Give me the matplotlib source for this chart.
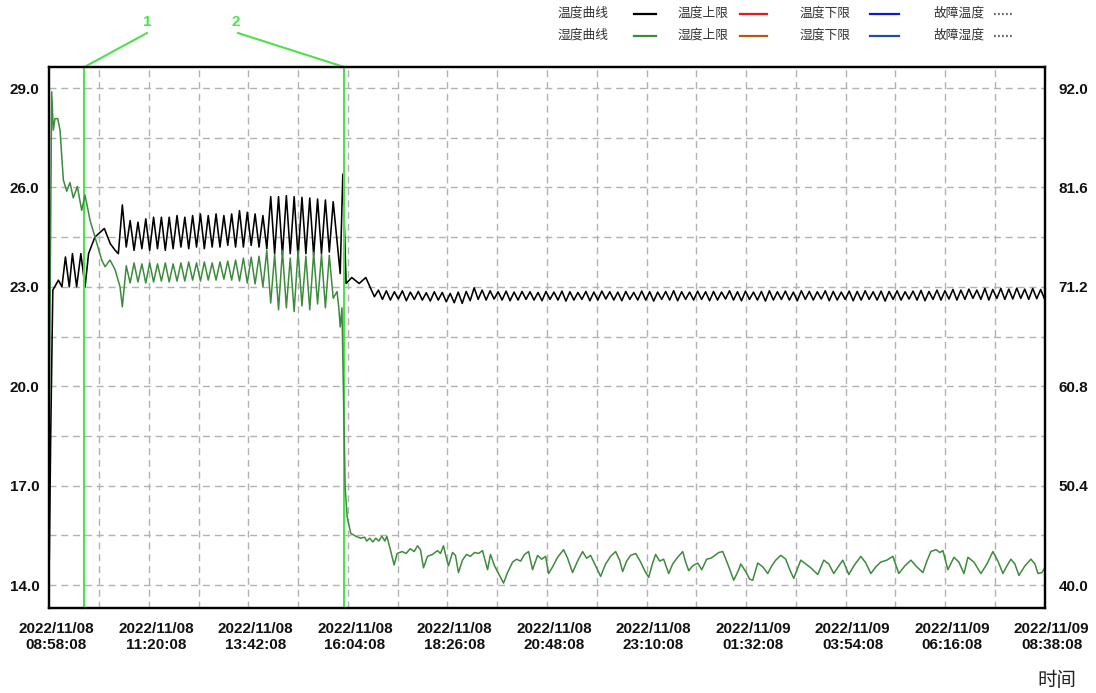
import numpy as np
import matplotlib
matplotlib.use('Agg')
import matplotlib.pyplot as plt
from matplotlib.lines import Line2D
from matplotlib.transforms import ScaledTranslation

plt.rcParams['font.family'] = ['Liberation Sans', 'Noto Sans CJK SC', 'DejaVu Sans']

# ---------------- data ----------------
# time in minutes after 2022/11/08 08:58:08
tick_minutes = [0, 142, 284, 426, 568, 710, 852, 994, 1136, 1278, 1420]
tick_labels = ["2022/11/08\n08:58:08", "2022/11/08\n11:20:08", "2022/11/08\n13:42:08",
               "2022/11/08\n16:04:08", "2022/11/08\n18:26:08", "2022/11/08\n20:48:08",
               "2022/11/08\n23:10:08", "2022/11/09\n01:32:08", "2022/11/09\n03:54:08",
               "2022/11/09\n06:16:08", "2022/11/09\n08:38:08"]
temp_ticks = [14.0, 17.0, 20.0, 23.0, 26.0, 29.0]
hum_ticks = [40.0, 50.4, 60.8, 71.2, 81.6, 92.0]

# temperature: start segment
temp_t_start = [0, 2, 5, 13, 18, 23, 28.5, 33, 39, 45, 51, 56, 65, 78.5, 87, 94, 98.5]
temp_v_start = [14.8, 18.5, 22.9, 23.2, 23.0, 23.9, 23.0, 24.0, 23.0, 24.0, 23.0, 24.0,
                24.5, 24.76, 24.3, 24.1, 24.0]
# temperature: regular oscillation 104.2 .. 405 min (peaks / troughs)
temp_mid_span = (104.2, 405.0)
temp_mid_peaks = [25.47, 25.0, 24.95, 25.05, 25.1, 25.1, 25.1, 25.15, 25.1, 25.15, 25.2,
                  25.15, 25.2, 25.15, 25.2, 25.3, 25.25, 25.2, 25.15,
                  25.72, 25.72, 25.75, 25.72, 25.7, 25.68, 25.65, 25.62, 25.57]
temp_mid_troughs = [24.2, 24.1, 24.15, 24.1, 24.15, 24.1, 24.15, 24.2, 24.15, 24.2, 24.15,
                    24.2, 24.2, 24.25, 24.2, 24.2, 24.25, 24.2, 24.15,
                    24.0, 23.95, 24.0, 23.9, 24.0, 23.95, 24.0, 24.05]
# temperature: around the door event
temp_t_step = [415, 418.7, 423.4, 431.5, 442, 451.5]
temp_v_step = [23.4, 26.4, 23.1, 23.28, 23.1, 23.28]
# temperature: stable oscillation 463.8 .. 1420 min
temp_post_span = (463.8, 1420.0)
temp_post_troughs = [22.70, 22.62, 22.60, 22.63, 22.58, 22.62, 22.60, 22.57, 22.60, 22.55,
                     22.52, 22.50, 22.58, 22.62, 22.60, 22.63, 22.60, 22.58, 22.60, 22.62,
                     22.60, 22.58, 22.62, 22.60, 22.57, 22.60, 22.62, 22.58, 22.60, 22.63,
                     22.60, 22.58, 22.62, 22.60, 22.60, 22.57, 22.62, 22.60, 22.58, 22.62,
                     22.60, 22.62, 22.58, 22.60, 22.63, 22.60, 22.58, 22.62, 22.60, 22.57,
                     22.60, 22.62, 22.60, 22.58, 22.62, 22.60, 22.63, 22.58, 22.60, 22.62,
                     22.58, 22.60, 22.62, 22.60, 22.57, 22.62, 22.60, 22.63, 22.60, 22.58,
                     22.62, 22.60, 22.63, 22.60, 22.62, 22.65, 22.62, 22.60, 22.65, 22.62,
                     22.63, 22.65, 22.62, 22.64, 22.62]
temp_post_peaks = [22.90, 22.88, 22.85, 22.88, 22.84, 22.86, 22.82, 22.85, 22.83, 22.80,
                   22.84, 22.86, 22.97, 22.90, 22.88, 22.85, 22.87, 22.84, 22.86, 22.85,
                   22.83, 22.86, 22.84, 22.87, 22.85, 22.83, 22.86, 22.84, 22.87, 22.85,
                   22.84, 22.86, 22.83, 22.87, 22.85, 22.84, 22.86, 22.88, 22.85, 22.84,
                   22.87, 22.85, 22.86, 22.84, 22.88, 22.85, 22.87, 22.84, 22.86, 22.88,
                   22.85, 22.87, 22.84, 22.88, 22.86, 22.85, 22.88, 22.86, 22.84, 22.87,
                   22.86, 22.88, 22.85, 22.87, 22.86, 22.88, 22.85, 22.87, 22.89, 22.86,
                   22.90, 22.88, 22.92, 22.90, 22.93, 22.90, 22.95, 22.92, 22.95, 22.93,
                   22.96, 22.93, 22.95, 22.92]

# humidity: start segment
hum_t_start = [0, 3.4, 5.7, 8.1, 12, 15.3, 20, 24.8, 29.5, 34.2, 40, 46.2, 51, 58, 65.2,
               74.8, 79.5, 86.6, 93.8, 100.9]
hum_v_start = [58.3, 91.6, 87.6, 88.8, 88.8, 87.6, 82.4, 81.2, 82.1, 80.5, 81.7, 79.2, 80.8,
               78.2, 76.4, 74.0, 73.3, 74.0, 73.0, 71.2]
# humidity: oscillation (same span as temperature, opposite phase)
hum_mid_troughs = [69.1, 71.6, 71.7, 71.6, 71.7, 71.8, 71.7, 71.8, 71.8, 71.9, 71.8, 71.9,
                   71.9, 72.0, 71.9, 71.8, 71.6, 71.5, 71.2,
                   69.5, 68.8, 69.0, 68.6, 69.2, 68.8, 69.4, 69.0, 70.0]
hum_mid_peaks = [73.4, 73.7, 73.6, 73.7, 73.6, 73.7, 73.6, 73.7, 73.8, 73.7, 73.8, 73.7,
                 73.8, 73.9, 74.0, 74.2, 74.3, 74.4, 75.0,
                 74.6, 75.0, 74.2, 75.0, 74.4, 74.8, 74.6, 74.5]
# humidity: drop and afterwards
hum_t_post = [410.5, 413, 415, 417.5, 419.6, 422, 425, 430, 438.6, 444.3, 450, 452.9, 457.2,
              461.5, 465.8, 470, 474.4, 478.7, 481.5, 486.2, 491.9, 496.2, 503.3, 509, 514.8,
              520.5, 525.2, 529.5, 533.8, 539.5, 546.6, 553.8, 558, 562.3, 565.2, 569.4,
              575.2, 579.4, 583.7, 589.4, 595.1, 600.8, 606.6, 612.3, 618, 625.2, 629.4,
              635.2, 642.3, 648, 653.7, 660.9, 666.6, 672.3, 678, 683.7, 689.4, 696.6,
              702.3, 708, 712.3, 718, 725.1, 733.7, 739.4, 746.5, 753.6, 760.8, 766.5,
              772.2, 779.3, 786.5, 793.6, 800.8, 807.9, 813.6, 817.9, 823.6, 829.3, 836.5,
              843.6, 849.3, 855, 860.7, 865, 870.7, 876.4, 883.6, 889.3, 896.4, 903.6,
              907.8, 912.1, 917.8, 925, 930.7, 937.8, 943.5, 947.8, 955, 960.7, 967.8,
              976.4, 983.5, 986.4, 993.5, 999.2, 1003.5, 1010.6, 1017.8, 1024.9, 1030.6,
              1036.3, 1043.5, 1050.6, 1056.3, 1062, 1067.7, 1072, 1079.1, 1086.3, 1096.3,
              1104.8, 1112, 1119.1, 1126.3, 1132, 1140.5, 1147.7, 1157.7, 1164.8, 1172,
              1179.1, 1186.2, 1194.8, 1203.4, 1211.9, 1220.5, 1229.1, 1237.6, 1246.2,
              1251.9, 1257.6, 1264.8, 1270.5, 1274.8, 1281.9, 1290.5, 1297.6, 1304.8,
              1310.5, 1319, 1329, 1337.6, 1346.1, 1353.3, 1360.4, 1366.1, 1371.8, 1377.5,
              1383.2, 1391.8, 1400.4, 1406.1, 1410.4, 1416.1, 1420]
hum_v_post = [70.7, 69.0, 67.0, 69.0, 60.0, 50.3, 47.1, 45.4, 45.05, 44.9, 45.0, 44.6, 44.9,
              44.5, 44.9, 44.6, 45.1, 44.6, 45.1, 43.8, 42.1, 43.3, 43.5, 43.3, 43.8,
              43.5, 44.1, 43.7, 41.8, 43.0, 43.2, 43.6, 43.3, 44.1, 43.2, 42.0,
              43.4, 43.1, 41.3, 42.6, 43.2, 43.0, 43.4, 43.3, 43.6, 41.6, 43.2,
              42.0, 41.0, 40.2, 41.3, 42.4, 42.7, 42.5, 43.2, 43.5, 41.6, 43.1,
              42.7, 43.0, 41.2, 41.9, 42.9, 43.7, 42.8, 41.3, 42.5, 43.5, 42.8,
              43.1, 42.0, 40.9, 42.2, 43.0, 43.5, 42.6, 41.4, 42.5, 43.1, 43.3,
              42.4, 41.5, 40.8, 42.3, 43.2, 42.5, 42.7, 41.2, 42.2, 42.9, 43.5,
              42.4, 41.5, 42.0, 42.3, 41.6, 42.7, 42.8, 43.0, 43.4, 43.5, 42.2,
              40.5, 41.6, 42.2, 41.4, 40.6, 40.5, 42.3, 41.9, 41.2, 42.0,
              42.6, 43.1, 42.7, 41.6, 40.7, 41.8, 42.6, 42.2, 41.8, 41.1,
              42.6, 42.2, 41.2, 42.0, 42.6, 41.1, 42.0, 43.0, 42.3, 41.2,
              41.9, 42.4, 42.6, 43.0, 41.2, 42.0, 42.6, 41.9, 41.3,
              42.5, 43.5, 43.7, 43.4, 43.6, 41.6, 42.9, 42.4, 41.2,
              42.9, 42.4, 41.2, 42.2, 43.5, 42.5, 41.2, 42.0, 42.7, 42.2,
              41.0, 42.0, 42.7, 42.2, 41.2, 41.3, 41.8]

marker_times = [50.0, 420.6]
marker_names = ['1', '2']

legend_labels = ['温度曲线', '湿度曲线', '温度上限', '湿度上限', '温度下限', '湿度下限', '故障温度', '故障湿度']
legend_colors = ['#000000', '#3d8b3d', '#e41a1c', '#b05a12', '#1414d2', '#1f4f9e', '#666666', '#666666']

# ------------- assemble series -------------
def interleave(first, second):
    out = []
    for i in range(len(second)):
        out.append(first[i]); out.append(second[i])
    if len(first) > len(second):
        out.append(first[-1])
    return out

mid_vals = interleave(temp_mid_peaks, temp_mid_troughs)
mid_t = np.linspace(temp_mid_span[0], temp_mid_span[1], len(mid_vals))
post_vals = interleave(temp_post_troughs, temp_post_peaks)
post_t = np.linspace(temp_post_span[0], temp_post_span[1], len(post_vals))
temp_t = np.concatenate([temp_t_start, mid_t, temp_t_step, post_t])
temp_v = np.concatenate([temp_v_start, mid_vals, temp_v_step, post_vals])

hmid_vals = interleave(hum_mid_troughs, hum_mid_peaks)
hum_t = np.concatenate([hum_t_start, mid_t, hum_t_post])
hum_v = np.concatenate([hum_v_start, hmid_vals, hum_v_post])

# ------------- figure -------------
W, H = 1096, 693
fig = plt.figure(figsize=(W / 100, H / 100), dpi=100)
fig.patch.set_facecolor('white')
ax = fig.add_axes([49.3 / W, 1 - 608 / H, (1044.7 - 49.3) / W, (608 - 67) / H])
t_lo, t_hi = 13.306, 29.634
ax.set_xlim(0, 1420)
ax.set_ylim(t_lo, t_hi)
ax2 = ax.twinx()
ax2.set_ylim(40 + (t_lo - 14) * 52 / 15, 40 + (t_hi - 14) * 52 / 15)

grid_kw = dict(color='#b2b2b2', lw=1.0, ls=(0, (5, 3.5)), zorder=0)
for g in np.arange(14.0, 29.01, 1.5):
    ax.axhline(g, **grid_kw)
for g in np.arange(71, 1420, 71):
    ax.axvline(g, **grid_kw)

ax.plot(temp_t, temp_v, color='#000000', lw=1.15, zorder=3)
ax2.plot(hum_t, hum_v, color='#3d8b3d', lw=1.1, zorder=2)

bold = dict(fontsize=11, fontweight='bold', family=['Liberation Sans', 'DejaVu Sans'])
ax.set_xticks(tick_minutes)
ax.set_xticklabels(tick_labels, linespacing=1.15, **bold)
ax.set_yticks(temp_ticks)
ax.set_yticklabels([f'{v:.1f}' for v in temp_ticks], **bold)
ax2.set_yticks(hum_ticks)
ax2.set_yticklabels([f'{v:.1f}' for v in hum_ticks], **bold)
ax.tick_params(axis='x', length=0, pad=10, colors='#111111')
ax.tick_params(axis='y', length=0, pad=7, colors='#111111')
ax2.tick_params(axis='y', length=0, pad=10, colors='#111111')
for lab in ax.get_xticklabels():
    lab.set_transform(lab.get_transform() + ScaledTranslation(7 / 100, 0, fig.dpi_scale_trans))

for a in (ax, ax2):
    for s in a.spines.values():
        s.set_color('#000000')
        s.set_linewidth(1.6)

# event markers
mk_col = '#4ee04e'
label_px = [(147, 33), (238, 33)]
text_px = [(147, 22), (236, 22)]
inv = ax.transData.inverted()
for mt, name, (px, py), (tx, ty) in zip(marker_times, marker_names, label_px, text_px):
    ax.plot([mt, mt], [t_lo, t_hi], color=mk_col, lw=1.5, zorder=6, clip_on=False)
    ex, ey = inv.transform((px, H - py))
    line = Line2D([mt, ex], [t_hi, ey], color=mk_col, lw=1.5, transform=ax.transData, clip_on=False)
    ax2.add_artist(line)
    fig.text(tx / W, 1 - ty / H, name, ha='center', va='center', color=mk_col,
             fontsize=11, fontweight='bold', family=['Liberation Sans', 'DejaVu Sans'])

# legend (manual layout)
cols = [(558, 634, 656), (678, 740, 767), (800, 870, 899), (933, 994, 1013)]
rows = [13.5, 35.5]
for i, (lab, col) in enumerate(zip(legend_labels, legend_colors)):
    c, r = divmod(i, 2)
    tx, l0, l1 = cols[c]
    yy = 1 - rows[r] / H
    fig.text(tx / W, yy, lab, ha='left', va='center', fontsize=9.2, color='#333333',
             family=['Noto Sans CJK SC', 'DejaVu Sans'])
    if c == 3:
        fig.add_artist(Line2D([l0 / W, l1 / W], [yy, yy], color=col, lw=1.6,
                              ls=(0, (0.8, 1.0)), transform=fig.transFigure))
    else:
        fig.add_artist(Line2D([l0 / W, l1 / W], [yy, yy], color=col, lw=1.6,
                              transform=fig.transFigure))

fig.text(1057 / W, 1 - 680 / H, '时间', ha='center', va='center', fontsize=14, color='#222222',
         family=['Noto Sans CJK SC', 'DejaVu Sans'])

fig.savefig('out.png', dpi=100)
